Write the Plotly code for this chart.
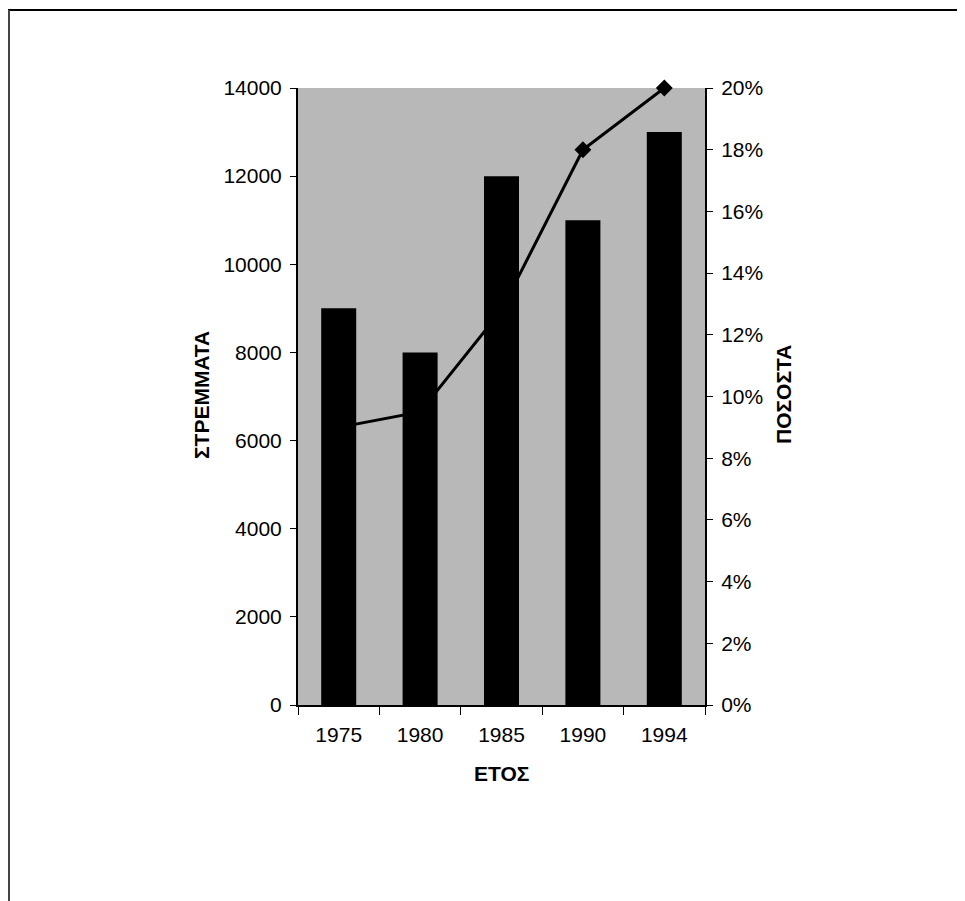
import plotly.graph_objects as go

years = ["1975", "1980", "1985", "1990", "1994"]
stremmata = [9000, 8000, 12000, 11000, 13000]
pososta = [0.09, 0.095, 0.128, 0.18, 0.20]

y_ticks = [0, 2000, 4000, 6000, 8000, 10000, 12000, 14000]
y2_ticks = [0, 0.02, 0.04, 0.06, 0.08, 0.10, 0.12, 0.14, 0.16, 0.18, 0.20]

FONT = "Liberation Sans, Arial, sans-serif"
OFF = 8  # page body margin

# plot area in page pixels
PL, PR, PT, PB = 298, 705, 88, 705
W, H = 965 - OFF, 901 - OFF
L, T = PL - OFF, PT - OFF
R, B = W - (PR - OFF), H - (PB - OFF)
pw, ph = PR - PL, PB - PT

def px(x):
    return (x - PL) / pw

def py(y):
    return (PB - y) / ph

fig = go.Figure()
fig.add_trace(go.Bar(x=years, y=stremmata, marker=dict(color="black", line=dict(width=0)),
                     width=0.43, yaxis="y", showlegend=False))
fig.add_trace(go.Scatter(x=years, y=pososta, yaxis="y2", mode="lines+markers",
                         line=dict(color="black", width=3),
                         marker=dict(symbol="diamond", size=13, color="black"),
                         showlegend=False, cliponaxis=False))

fig.update_layout(
    width=W, height=H,
    margin=dict(l=L, r=R, t=T, b=B, pad=0),
    paper_bgcolor="white",
    plot_bgcolor="#b8b8b8",
    font=dict(family=FONT, size=21, color="black"),
    xaxis=dict(type="category", showline=True, linecolor="black", linewidth=1.5,
               ticks="outside", tickson="boundaries", ticklen=8, tickcolor="black",
               showgrid=False, ticklabelstandoff=10, tickfont=dict(size=21)),
    yaxis=dict(range=[0, 14000], tickvals=y_ticks, tickformat="d", showline=True,
               linecolor="black", linewidth=2, ticks="outside", ticklen=6,
               tickcolor="black", showgrid=False, zeroline=False, ticklabelstandoff=4,
               tickfont=dict(size=21)),
    yaxis2=dict(range=[0, 0.20], tickvals=y2_ticks, tickformat=".0%", overlaying="y",
                side="right", showline=True, linecolor="black", linewidth=2,
                ticks="outside", ticklen=6, tickcolor="black", showgrid=False,
                zeroline=False, ticklabelstandoff=4, tickfont=dict(size=21)),
    annotations=[
        dict(text="<b>ΣΤΡΕΜΜΑΤΑ</b>", x=px(201), y=py(395), xref="paper", yref="paper",
             xanchor="center", yanchor="middle",
             showarrow=False, textangle=-90, font=dict(size=21, family=FONT)),
        dict(text="<b>ΠΟΣΟΣΤΑ</b>", x=px(783), y=py(395), xref="paper", yref="paper",
             xanchor="center", yanchor="middle",
             showarrow=False, textangle=-90, font=dict(size=21, family=FONT)),
        dict(text="<b>ΕΤΟΣ</b>", x=px(501), y=py(773), xref="paper", yref="paper",
             xanchor="center", yanchor="middle",
             showarrow=False, font=dict(size=21, family=FONT)),
    ],
    shapes=[
        dict(type="line", xref="paper", yref="paper", x0=px(8), x1=px(965), y0=py(10), y1=py(10),
             line=dict(color="black", width=2)),
        dict(type="line", xref="paper", yref="paper", x0=px(9), x1=px(9), y0=py(10), y1=py(901),
             line=dict(color="#444444", width=2)),
    ],
)

fig.write_html("out.html")
